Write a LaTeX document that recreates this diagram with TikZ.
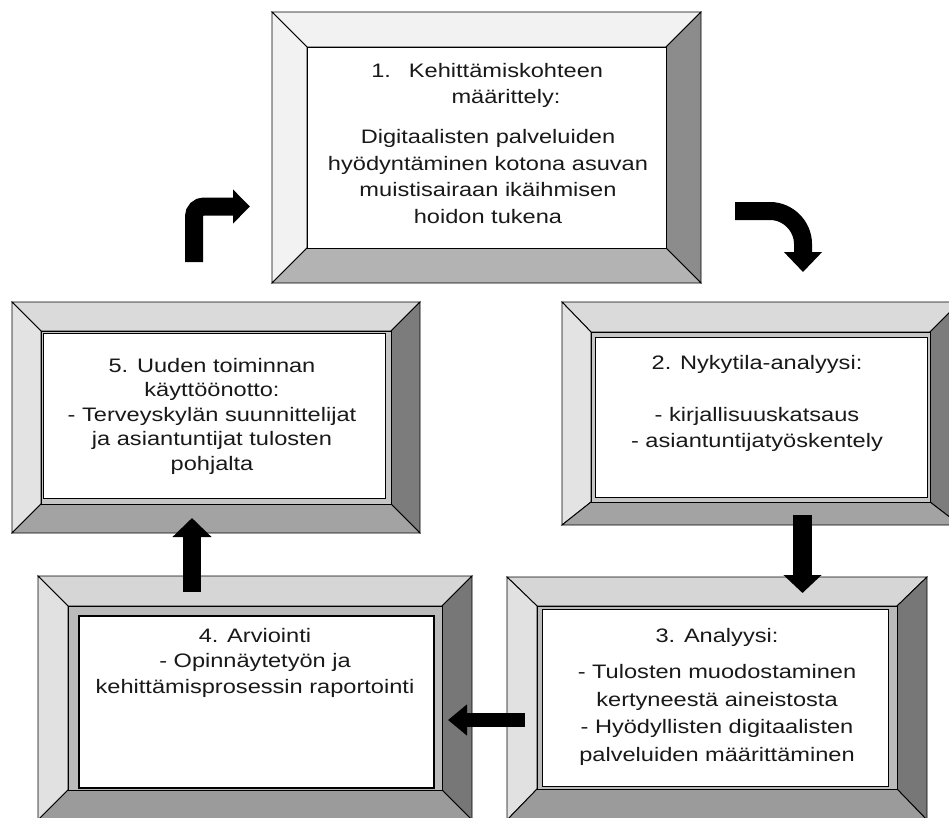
\documentclass[tikz,border=0pt]{standalone}
\usepackage{fontspec}
\setmainfont{Liberation Sans}[FakeStretch=1.21]
\usetikzlibrary{arrows.meta}

% bevel colours: A = light top box, B = middle row, C = bottom row
\definecolor{topA}{HTML}{F2F2F2}
\definecolor{leftA}{HTML}{F2F2F2}
\definecolor{rightA}{HTML}{8C8C8C}
\definecolor{bottomA}{HTML}{B3B3B3}
\definecolor{bandA}{HTML}{FFFFFF}
\definecolor{topB}{HTML}{DADADA}
\definecolor{leftB}{HTML}{E3E3E3}
\definecolor{rightB}{HTML}{7C7C7C}
\definecolor{bottomB}{HTML}{A3A3A3}
\definecolor{bandB}{HTML}{C6C6C6}
\definecolor{topC}{HTML}{D6D6D6}
\definecolor{leftC}{HTML}{E1E1E1}
\definecolor{rightC}{HTML}{777777}
\definecolor{bottomC}{HTML}{9B9B9B}
\definecolor{bandC}{HTML}{BABABA}

% outer x1,y1,x2,y2 -- inner x1,y1,x2,y2 -- colour set
\newcommand{\bevelbox}[9]{%
  \filldraw[fill=top#9]    (#1,#2) -- (#3,#2) -- (#7,#6) -- (#5,#6) -- cycle;
  \filldraw[fill=left#9]   (#1,#2) -- (#5,#6) -- (#5,#8) -- (#1,#4) -- cycle;
  \filldraw[fill=right#9]  (#3,#2) -- (#3,#4) -- (#7,#8) -- (#7,#6) -- cycle;
  \filldraw[fill=bottom#9] (#1,#4) -- (#3,#4) -- (#7,#8) -- (#5,#8) -- cycle;
  \filldraw[fill=band#9]   (#5,#6) rectangle (#7,#8);
}

\begin{document}
\begin{tikzpicture}[
    x=1pt, y=-1pt,
    line width=.9pt,
    every node/.style={align=center, inner sep=0pt},
    boxtext/.style={anchor=base, text=black!90}, % base = last line
    panel/.style={fill=white, draw=black},
    bigarrow/.style n args={3}{draw=black, line width=#1, -{Triangle[length=#2,width=#3]}}
  ]
  \clip (0,0) rectangle (949,817);

  %%%%%%%%%%%%%%%%%%%%%%%%%%%%%%%%%%%%%%%%%%%%%%%%%%%%%%%%
  % (1) Kehittamiskohteen maarittely (top)
  %%%%%%%%%%%%%%%%%%%%%%%%%%%%%%%%%%%%%%%%%%%%%%%%%%%%%%%%
  \bevelbox{272}{12}{701}{283}{307}{47}{666}{248}{A}
  \draw[panel] (307,47) rectangle (666,248);
  \node[boxtext, font=\fontsize{19.5}{26.5}\selectfont] (Define) at (488,223)
    {\hspace*{36pt}\llap{1.\hspace{18pt}}Kehittämiskohteen\\
     \hspace*{36pt}määrittely:\\[13.5pt]
     Digitaalisten palveluiden\\
     hyödyntäminen kotona asuvan\\
     muistisairaan ikäihmisen\\
     hoidon tukena};

  %%%%%%%%%%%%%%%%%%%%%%%%%%%%%%%%%%%%%%%%%%%%%%%%%%%%%%%%
  % (2) Nykytila-analyysi (right)
  %%%%%%%%%%%%%%%%%%%%%%%%%%%%%%%%%%%%%%%%%%%%%%%%%%%%%%%%
  \bevelbox{562}{302}{960}{525}{591}{332}{930}{502}{B}
  \draw[panel] (595,337) rectangle (927,497);
  \node[boxtext, font=\fontsize{19.5}{25.5}\selectfont] (Current) at (757,447)
    {2. Nykytila-analyysi:\\[26.5pt]
     - kirjallisuuskatsaus\\
     - asiantuntijatyöskentely};

  %%%%%%%%%%%%%%%%%%%%%%%%%%%%%%%%%%%%%%%%%%%%%%%%%%%%%%%%
  % (3) Analyysi (bottom right)
  %%%%%%%%%%%%%%%%%%%%%%%%%%%%%%%%%%%%%%%%%%%%%%%%%%%%%%%%
  \bevelbox{507}{577}{927}{820}{537}{606}{897}{789}{C}
  \draw[panel] (542,609) rectangle (888,786);
  \node[boxtext, font=\fontsize{19.5}{27.5}\selectfont] (Analysis) at (717,761)
    {3. Analyysi:\\[8.5pt]
     - Tulosten muodostaminen\\
     kertyneestä aineistosta\\
     - Hyödyllisten digitaalisten\\
     palveluiden määrittäminen};

  %%%%%%%%%%%%%%%%%%%%%%%%%%%%%%%%%%%%%%%%%%%%%%%%%%%%%%%%
  % (4) Arviointi (bottom left)
  %%%%%%%%%%%%%%%%%%%%%%%%%%%%%%%%%%%%%%%%%%%%%%%%%%%%%%%%
  \bevelbox{38}{576}{472}{820}{68}{606}{442}{790}{C}
  \draw[panel, line width=1.3pt] (79,616) rectangle (434,788);
  \node[boxtext, font=\fontsize{19.5}{25.5}\selectfont] (Review) at (255,693)
    {4. Arviointi\\
     - Opinnäytetyön ja\\
     kehittämisprosessin raportointi};

  %%%%%%%%%%%%%%%%%%%%%%%%%%%%%%%%%%%%%%%%%%%%%%%%%%%%%%%%
  % (5) Uuden toiminnan kayttoonotto (left)
  %%%%%%%%%%%%%%%%%%%%%%%%%%%%%%%%%%%%%%%%%%%%%%%%%%%%%%%%
  \bevelbox{12}{302}{420}{533}{41}{331}{391}{504}{B}
  \draw[panel] (43,333) rectangle (385,498);
  \node[boxtext, font=\fontsize{19.5}{24.5}\selectfont] (Adopt) at (212,470)
    {5. Uuden toiminnan\\
     käyttöönotto:\\
     - Terveyskylän suunnittelijat\\
     ja asiantuntijat tulosten\\
     pohjalta};

  %%%%%%%%%%%%%%%%%%%%%%%%%%%%%%%%%%%%%%%%%%%%%%%%%%%%%%%%
  % ARROWS round the cycle
  %%%%%%%%%%%%%%%%%%%%%%%%%%%%%%%%%%%%%%%%%%%%%%%%%%%%%%%%
  \coordinate (CurveStart) at (735,211);
  \coordinate (CurveEnd)   at (803,272);
  \coordinate (DownStart)  at (802.5,515);
  \coordinate (DownEnd)    at (802.5,593);
  \coordinate (LeftStart)  at (525,720);
  \coordinate (LeftEnd)    at (448,720);
  \coordinate (UpStart)    at (192,592);
  \coordinate (UpEnd)      at (192,518);
  \coordinate (TurnStart)  at (194,262);
  \coordinate (TurnEnd)    at (250,206.5);

  % 1 -> 2
  \draw[bigarrow={18pt}{20pt}{37pt}]
    (CurveStart) -- (770,211) .. controls (788,211) and (803,226) .. (803,244) -- (CurveEnd);
  % 2 -> 3
  \draw[bigarrow={19pt}{18pt}{37pt}] (DownStart) -- (DownEnd);
  % 3 -> 4
  \draw[bigarrow={14pt}{19pt}{30pt}] (LeftStart) -- (LeftEnd);
  % 4 -> 5
  \draw[bigarrow={18pt}{19pt}{38pt}] (UpStart) -- (UpEnd);
  % 5 -> 1
  \draw[bigarrow={18pt}{17pt}{33pt}, rounded corners=10pt] (TurnStart) |- (TurnEnd);

\end{tikzpicture}
\end{document}
